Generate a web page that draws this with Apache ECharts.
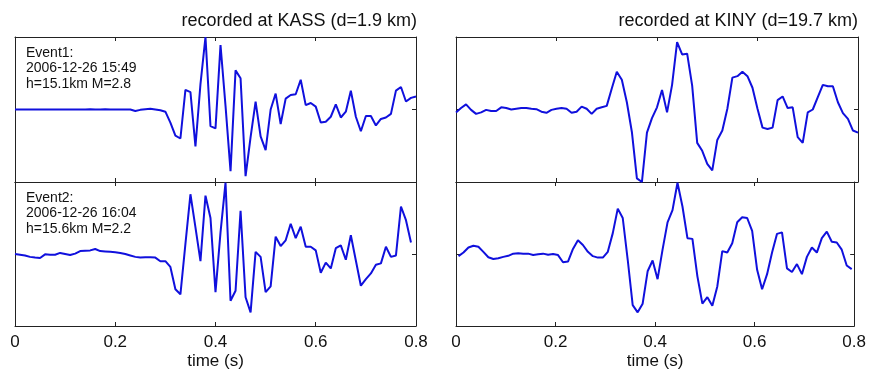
<!DOCTYPE html>
<html>
<head>
<meta charset="utf-8">
<script src="https://cdn.jsdelivr.net/npm/echarts/dist/echarts.min.js"></script>
<style>
  html, body { margin: 0; padding: 0; background: #fff; }
  #main { width: 869px; height: 372px; }
</style>
</head>
<body>
<div id="main"></div>
<script>
// sampling: 100 Hz, each trace starts at its own offset
var sampleStep = 0.01;
var startKassEv1 = 0;
var startKassEv2 = 0;
var startKinyEv1 = 0;
var startKinyEv2 = 0.005;

// x tick labels (s)
var timeTicks = [0, 0.2, 0.4, 0.6, 0.8];

// station titles
var stationTitles = ['recorded at KASS (d=1.9 km)', 'recorded at KINY (d=19.7 km)'];

// event annotations
var eventLabels = [
  'Event1:\n2006-12-26 15:49\nh=15.1km M=2.8',
  'Event2:\n2006-12-26 16:04\nh=15.6km M=2.2'
];

// normalized amplitudes
var kassEv1 = [
  0, 0, 0, 0, 0, 0, 0, 0, 0, 0,
  0, 0, 0, 0, 0, 0.005, 0, 0, 0.005, 0,
  0, 0, 0, 0, -0.02, -0.005, 0.005, 0.01, 0, -0.01,
  -0.03, -0.18, -0.36, -0.40, 0.27, 0.24, -0.51, 0.35, 1.0, -0.23,
  -0.26, 0.89, 0.05, -0.85, 0.54, 0.43, -0.92, -0.38, 0.11, -0.37,
  -0.56, 0, 0.22, -0.2, 0.15, 0.2, 0.21, 0.41, 0.06, 0.09,
  0.04, -0.18, -0.17, -0.10, 0.07, -0.11, -0.03, 0.26, -0.1, -0.3,
  -0.09, -0.09, -0.22, -0.13, -0.11, -0.06, 0.26, 0.31, 0.11, 0.16,
  0.18
];

var kassEv2 = [
  0, -0.01, -0.02, -0.04, -0.05, -0.055, -0.005, -0.01, -0.01, 0.015,
  0, -0.015, 0.005, 0.04, 0.045, 0.05, 0.07, 0.04, 0.035, 0.03,
  0.025, 0.015, 0, -0.02, -0.04, -0.05, -0.045, -0.045, -0.05, -0.1,
  -0.1, -0.18, -0.49, -0.56, 0.14, 0.83, 0.37, -0.1, 0.81, 0.5,
  -0.53, 0.3, 0.99, -0.65, -0.51, 0.6, -0.6, -0.81, 0.03, -0.04,
  -0.53, -0.45, 0.24, 0.11, 0.19, 0.42, 0.22, 0.38, 0.1, 0.1,
  0.05, -0.26, -0.12, -0.2, 0.08, 0.12, -0.08, 0.26, -0.09, -0.44,
  -0.35, -0.27, -0.15, -0.13, 0.10, -0.04, -0.02, 0.66, 0.47, 0.16
];

var kinyEv1 = [
  -0.04, 0.02, 0.07, -0.005, -0.06, -0.04, -0.005, -0.02, -0.02, 0.03,
  0.02, 0, 0.01, 0.02, 0.02, 0.01, 0.005, -0.03, -0.045, -0.005,
  0.01, 0.02, 0.01, -0.045, -0.03, 0.04, 0.01, -0.06, 0.01, 0.03,
  0.05, 0.29, 0.52, 0.41, 0.10, -0.31, -0.95, -1.0, -0.32, -0.12,
  0.03, 0.27, -0.04, 0.34, 0.93, 0.76, 0.77, 0.33, -0.46, -0.57,
  -0.75, -0.84, -0.42, -0.29, 0.01, 0.44, 0.46, 0.52, 0.46, 0.30,
  0.01, -0.25, -0.27, -0.25, 0.13, 0.18, 0.02, 0.03, -0.38, -0.46,
  -0.04, 0, 0.17, 0.34, 0.32, 0.32, 0.10, -0.05, -0.13, -0.29,
  -0.32
];

var kinyEv2 = [
  -0.03, 0.02, 0.09, 0.115, 0.1, 0.03, -0.045, -0.07, -0.06, -0.04,
  -0.025, 0.005, 0.01, 0.005, 0.005, -0.015, -0.005, 0.005, -0.01, 0,
  -0.015, -0.115, -0.105, 0.07, 0.19, 0.125, 0.03, -0.03, -0.05, -0.05,
  0.03, 0.29, 0.63, 0.5, -0.08, -0.71, -0.81, -0.69, -0.24, -0.09,
  -0.35, 0.06, 0.44, 0.61, 0.99, 0.66, 0.22, 0.21, -0.31, -0.69,
  -0.6, -0.72, -0.45, 0.04, 0.02, 0.15, 0.44, 0.51, 0.5, 0.32,
  -0.22, -0.49, -0.28, 0.02, 0.28, 0.3, -0.2, -0.25, -0.14, -0.28,
  -0.04, 0.09, 0.02, 0.22, 0.31, 0.17, 0.16, 0.06, -0.16, -0.21
];

var boxColor = '#222';
var traceColor = '#1010dd';
var fontName = '"Liberation Sans", Arial, sans-serif';

// turn a value list into [time, value] pairs
function toPairs(values, start) {
  var out = [];
  for (var i = 0; i < values.length; i++) {
    out.push([+(start + i * sampleStep).toFixed(3), values[i]]);
  }
  return out;
}

function makeXAxis(gridIndex, position, showLabel) {
  return {
    type: 'value',
    gridIndex: gridIndex,
    position: position,
    min: timeTicks[0],
    max: timeTicks[timeTicks.length - 1],
    interval: 0.2,
    axisLine: { show: true, onZero: false, lineStyle: { color: boxColor, width: 1 } },
    axisTick: { show: true, inside: true, length: 4, lineStyle: { color: boxColor } },
    axisLabel: {
      show: showLabel,
      margin: 8,
      fontSize: 17,
      color: '#111',
      fontFamily: fontName
    },
    splitLine: { show: false },
    name: showLabel ? 'time (s)' : '',
    nameLocation: 'middle',
    nameGap: 27,
    nameTextStyle: { fontSize: 17, color: '#111', fontFamily: fontName }
  };
}

function makeYAxis(gridIndex, position) {
  return {
    type: 'value',
    gridIndex: gridIndex,
    position: position,
    min: -1,
    max: 1,
    interval: 1,
    axisLine: { show: true, onZero: false, lineStyle: { color: boxColor, width: 1 } },
    axisTick: { show: true, inside: true, length: 4, lineStyle: { color: boxColor } },
    axisLabel: { show: false },
    splitLine: { show: false }
  };
}

var chartDom = document.getElementById('main');
var myChart = echarts.init(chartDom);

// grid order: KASS ev1, KASS ev2, KINY ev1, KINY ev2
var grids = [
  { left: 15, top: 37, width: 401, height: 145 },
  { left: 15, top: 182, width: 401, height: 144 },
  { left: 456, top: 37, width: 402, height: 145 },
  { left: 456, top: 182, width: 402, height: 144 }
];

var xAxes = [];
var yAxes = [];
for (var g = 0; g < grids.length; g++) {
  var isBottom = (g % 2 === 1);
  xAxes.push(makeXAxis(g, 'bottom', isBottom));
  xAxes.push(makeXAxis(g, 'top', false));
  yAxes.push(makeYAxis(g, 'left'));
  yAxes.push(makeYAxis(g, 'right'));
}

var traces = [
  toPairs(kassEv1, startKassEv1),
  toPairs(kassEv2, startKassEv2),
  toPairs(kinyEv1, startKinyEv1),
  toPairs(kinyEv2, startKinyEv2)
];

var series = [];
for (var s = 0; s < traces.length; s++) {
  series.push({
    type: 'line',
    xAxisIndex: s * 2,
    yAxisIndex: s * 2,
    data: traces[s],
    showSymbol: false,
    clip: true,
    animation: false,
    lineStyle: { color: traceColor, width: 2 }
  });
}

var titleStyle = { fontSize: 18, fontWeight: 'normal', color: '#111', fontFamily: fontName };

var option = {
  backgroundColor: '#fff',
  animation: false,
  title: [
    { text: stationTitles[0], right: 869 - 417, top: 12, padding: 0, textStyle: titleStyle },
    { text: stationTitles[1], right: 869 - 858, top: 12, padding: 0, textStyle: titleStyle }
  ],
  grid: grids,
  xAxis: xAxes,
  yAxis: yAxes,
  graphic: [
    {
      type: 'text', left: 26, top: 45, z: 10,
      style: { text: eventLabels[0], fontSize: 14, lineHeight: 15.5, fontFamily: fontName, fill: '#111' }
    },
    {
      type: 'text', left: 26, top: 190, z: 10,
      style: { text: eventLabels[1], fontSize: 14, lineHeight: 15.5, fontFamily: fontName, fill: '#111' }
    }
  ],
  series: series
};

option && myChart.setOption(option);
</script>
</body>
</html>
